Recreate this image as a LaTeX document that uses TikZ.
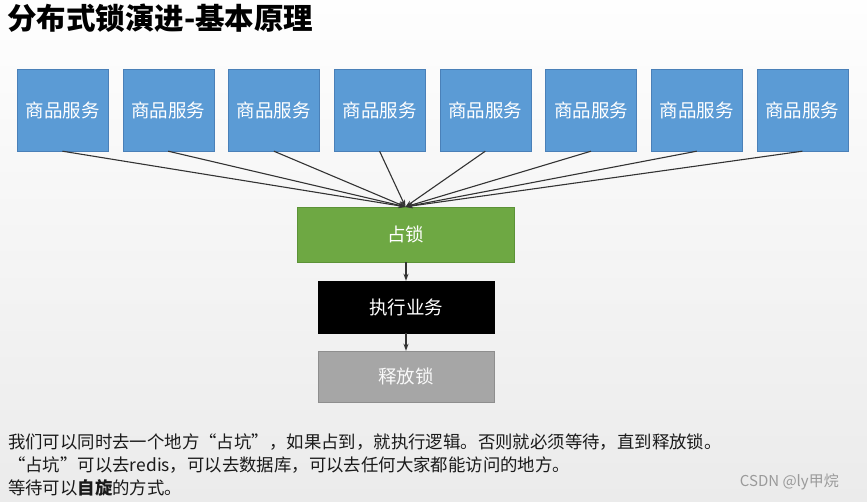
\documentclass[tikz,border=0pt]{standalone}
\usepackage{fontspec}
\setmainfont{Noto Sans CJK SC}
\usetikzlibrary{arrows.meta}
\definecolor{bgtop}{HTML}{FEFEFE}
\definecolor{bgbot}{HTML}{EBEBEB}
\definecolor{svcblue}{HTML}{5B9BD5}
\definecolor{svcedge}{HTML}{4A80B8}
\definecolor{lockgreen}{HTML}{6EA843}
\definecolor{lockedge}{HTML}{5C9237}
\definecolor{relgray}{HTML}{A6A6A6}
\definecolor{reledge}{HTML}{8E8E8E}
\definecolor{arrowgray}{HTML}{333333}
\definecolor{wmgray}{HTML}{9A9A9A}
\definecolor{txt}{HTML}{1A1A1A}
\tikzset{
  svc/.style={draw=svcedge, fill=svcblue, text=white, minimum width=91pt, minimum height=82pt, inner sep=0pt, font=\fontsize{18.5}{22}\selectfont},
  stepbox/.style={minimum height=53pt, inner sep=0pt, font=\fontsize{18.5}{22}\selectfont},
  conn/.style={draw=arrowgray, line width=1.1pt, -{Stealth[length=7pt,width=5pt]}},
  bodytext/.style={anchor=west, inner sep=0pt, text=txt, font=\fontsize{17.4}{20}\selectfont}
}
\begin{document}
\begin{tikzpicture}[x=1pt,y=-1pt]
\shade[top color=bgtop, bottom color=bgbot] (0,0) rectangle (867,502);
\useasboundingbox (0,0) rectangle (867,502);
\node[anchor=west, inner sep=0pt, font=\fontsize{29.5}{33}\selectfont\bfseries] (title) at (7,18) {分布式锁演进-基本原理};
\foreach \i in {1,...,8}{
  \node[svc] (s\i) at ({62.5+(\i-1)*105.7},110) {商品服务};
}
\node[stepbox, draw=lockedge, fill=lockgreen, text=white, minimum width=217pt, minimum height=55pt] (lock) at (405.5,234.5) {占锁};
\node[stepbox, draw=black, fill=black, text=white, minimum width=176pt, minimum height=52pt] (exec) at (406,307) {执行业务};
\node[stepbox, draw=reledge, fill=relgray, text=white!95!gray, minimum width=176pt, minimum height=51pt] (rel) at (406,376.5) {释放锁};
\foreach \i in {1,...,8}{
  \draw[conn] (s\i.south) -- (lock.north);
}
\draw[conn] (lock.south -| exec.north) -- (exec.north);
\draw[conn] (exec.south) -- (rel.north);
\node[bodytext] (l1) at (8,442) {我们可以同时去一个地方“占坑”，如果占到，就执行逻辑。否则就必须等待，直到释放锁。};
\node[bodytext] (l2) at (8,465) {“占坑”可以去redis，可以去数据库，可以去任何大家都能访问的地方。};
\node[bodytext] (l3) at (8,488) {等待可以\textbf{自旋}的方式。};
\node[anchor=east, inner sep=0pt, text=wmgray, font=\fontsize{15}{18}\selectfont] (wm) at (839,482) {CSDN @ly甲烷};
\end{tikzpicture}
\end{document}
